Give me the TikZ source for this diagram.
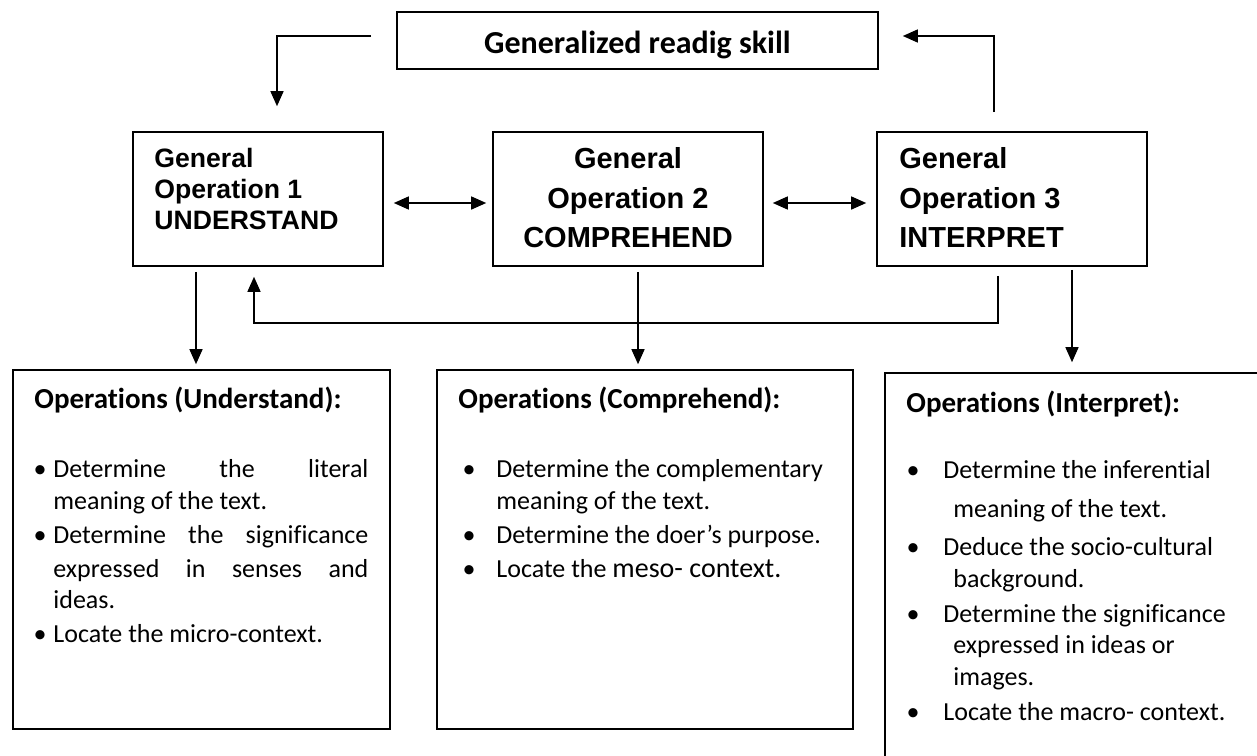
\documentclass[tikz,border=0pt]{standalone}
\usepackage{fontspec}
\newfontfamily\calibri[Ligatures=NoCommon]{Carlito}
\newfontfamily\arial{Liberation Sans}
\usetikzlibrary{arrows.meta,calc}

\begin{document}
\begin{tikzpicture}[x=0.5pt,y=-0.5pt,
  box/.style={draw, line width=0.8pt, rectangle, inner sep=0pt},
  arr/.style={line width=0.7pt, -{Triangle[length=7.5pt,width=6.5pt]}},
  dblarr/.style={line width=0.7pt, {Triangle[length=7.5pt,width=6.5pt]}-{Triangle[length=7.5pt,width=6.5pt]}},
  txt/.style={anchor=base west, inner sep=0pt},
  dot/.style={anchor=base, inner sep=0pt, font=\calibri\fontsize{13}{15}\selectfont},
  gsmall/.style={font=\arial\bfseries\fontsize{13.3}{15}\selectfont},
  glarge/.style={font=\arial\bfseries\fontsize{14.5}{17}\selectfont},
  head/.style={font=\calibri\bfseries\fontsize{14.5}{17}\selectfont},
  body/.style={font=\calibri\fontsize{13}{15}\selectfont}]

  \useasboundingbox (0,0) rectangle (1257,755);

  % boxes
  \node[box, minimum width=240.5pt, minimum height=28.5pt] (title) at (637.5,40.5) {};
  \node[box, minimum width=125pt, minimum height=67pt] (op1) at (258,199) {};
  \node[box, minimum width=135pt, minimum height=67pt] (op2) at (628,199) {};
  \node[box, minimum width=135pt, minimum height=67pt] (op3) at (1012,199) {};
  \node[box, minimum width=188.5pt, minimum height=179.5pt] (bxA) at (201.5,549.5) {};
  \node[box, minimum width=208pt, minimum height=179.5pt] (bxB) at (645,549.5) {};
  \node[box, minimum width=192.5pt, minimum height=198.5pt] (bxC) at (1077.5,571.5) {};

  % arrows
  \draw[arr] ([xshift=-12.5pt,yshift=2.25pt]title.west) -| ([xshift=9.5pt,yshift=12.5pt]op1.north);
  \draw[arr] ([xshift=-9pt,yshift=9.5pt]op3.north) |- ([xshift=12pt,yshift=2.25pt]title.east);
  \draw[dblarr] ([xshift=5pt,yshift=-2pt]op1.east) -- ([xshift=-3pt,yshift=-2pt]op2.west);
  \draw[dblarr] ([xshift=4.5pt,yshift=-2pt]op2.east) -- ([xshift=-5pt,yshift=-2pt]op3.west);
  \draw[arr] ([xshift=-31pt,yshift=-2.5pt]op1.south) -- ($(op1.south |- bxA.north)+(-31pt,2.5pt)$);
  \draw[arr] ([xshift=5pt,yshift=-2.5pt]op2.south) -- ($(op2.south |- bxB.north)+(5pt,2.5pt)$);
  \draw[arr] ([xshift=30pt,yshift=-1.5pt]op3.south) -- ($(op3.south |- bxC.north)+(30pt,5pt)$);
  \draw[arr] ([xshift=-7pt,yshift=-4.5pt]op3.south) -- ++(0,-23.5pt) -| ([xshift=-2pt,yshift=-5pt]op1.south);

  % top texts
  \node[inner sep=0pt, anchor=base, font=\calibri\bfseries\fontsize{16}{19}\selectfont] (titletxt) at (637.5,53) {Generalized readig skill};

  \node[txt, gsmall] (op1a) at (154,167) {General};
  \node[txt, gsmall] (op1b) at (154,198) {Operation 1};
  \node[txt, gsmall] (op1c) at (154,229) {UNDERSTAND};

  \node[inner sep=0pt, anchor=base, glarge] (op2a) at (628,168) {General};
  \node[inner sep=0pt, anchor=base, glarge] (op2b) at (628,208) {Operation 2};
  \node[inner sep=0pt, anchor=base, glarge] (op2c) at (628,247) {COMPREHEND};

  \node[txt, glarge] (op3a) at (899,168) {General};
  \node[txt, glarge] (op3b) at (899,208) {Operation 3};
  \node[txt, glarge] (op3c) at (899,247) {INTERPRET};

  % understand
  \node[txt, head] (hA) at (34,408) {Operations (Understand):};
  \node[dot] (bA1) at (40,477) {•};
  \node[txt, body] (lA1) at (53,477) {\makebox[157.5pt][s]{Determine the literal}};
  \node[txt, body] (lA2) at (53,509) {meaning of the text.};
  \node[dot] (bA2) at (40,543) {•};
  \node[txt, body] (lA3) at (53,543) {\makebox[157.5pt][s]{Determine the significance}};
  \node[txt, body] (lA4) at (53,577) {\makebox[157.5pt][s]{expressed in senses and}};
  \node[txt, body] (lA5) at (53,608) {ideas.};
  \node[dot] (bA3) at (40,642) {•};
  \node[txt, body] (lA6) at (53,642) {Locate the micro-context.};

  % comprehend
  \node[txt, head] (hB) at (458,408) {Operations (Comprehend):};
  \node[dot] (bB1) at (469,477) {•};
  \node[txt, body] (lB1) at (496,477) {Determine the complementary};
  \node[txt, body] (lB2) at (496,509) {meaning of the text.};
  \node[dot] (bB2) at (469,543) {•};
  \node[txt, body] (lB3) at (496,543) {Determine the doer’s purpose.};
  \node[dot] (bB3) at (469,577) {•};
  \node[txt, body] (lB4) at (496,577) {Locate the {\fontsize{14}{16}\selectfont meso- context.}};

  % interpret
  \node[txt, head] (hC) at (906,412) {Operations (Interpret):};
  \node[dot] (bC1) at (913,478) {•};
  \node[txt, body] (lC1) at (943,478) {Determine the inferential};
  \node[txt, body] (lC2) at (953,517) {meaning of the text.};
  \node[dot] (bC2) at (913,555) {•};
  \node[txt, body] (lC3) at (943,555) {Deduce the socio-cultural};
  \node[txt, body] (lC4) at (953,587) {background.};
  \node[dot] (bC3) at (913,622) {•};
  \node[txt, body] (lC5) at (943,622) {Determine the significance};
  \node[txt, body] (lC6) at (953,653) {expressed in ideas or};
  \node[txt, body] (lC7) at (953,685) {images.};
  \node[dot] (bC4) at (913,720) {•};
  \node[txt, body] (lC8) at (943,720) {Locate the macro- context.};

\end{tikzpicture}
\end{document}
